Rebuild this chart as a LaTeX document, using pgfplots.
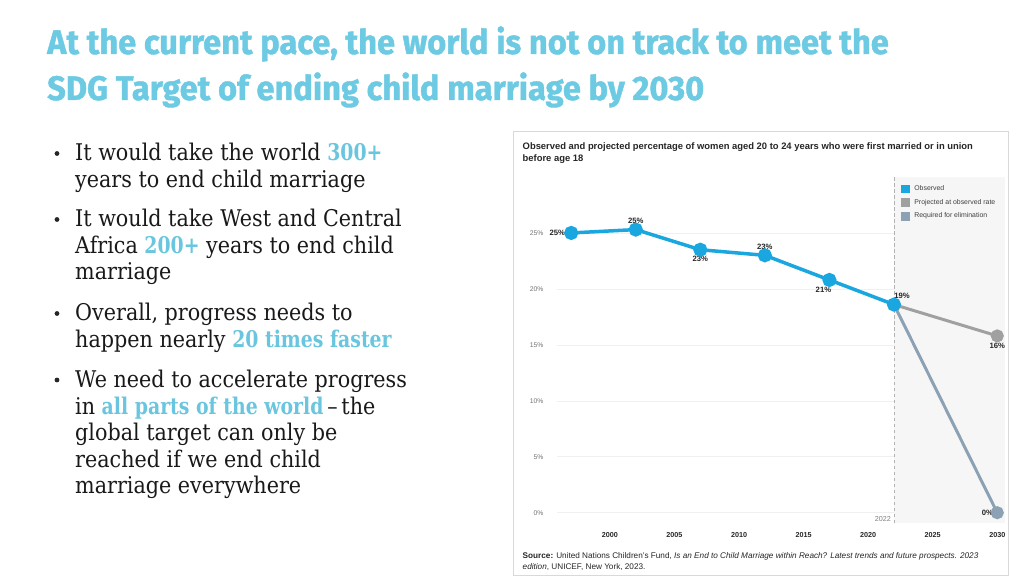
\documentclass[border=0pt]{standalone}
\usepackage{fontspec}
\setmainfont{Liberation Sans}
\newfontfamily\titlefont[FakeStretch=0.96, FakeBold=1.2]{Fira Sans}
\newfontfamily\bodyfont[FakeStretch=0.9, Ligatures=TeX]{DejaVu Serif}
\newfontfamily\hlfont[FakeStretch=0.82, Ligatures=TeX]{DejaVu Serif}
\usepackage{pgfplots}
\pgfplotsset{compat=1.18}
\definecolor{obsblue}{HTML}{1AA7E0}
\definecolor{projgray}{HTML}{A0A0A0}
\definecolor{reqblue}{HTML}{8CA1B3}
\definecolor{titlecyan}{HTML}{6CCAE3}
\definecolor{hl}{HTML}{6AC6DF}
\definecolor{shade}{HTML}{F6F6F6}
\newcommand{\bl}[2]{\node[anchor=base west, inner sep=0pt, font=\bodyfont\fontsize{23}{26}\selectfont, text=black!90] at (75,576-#1) {#2};}
\newcommand{\bdot}[1]{\fill[black!85] (57,576-#1+7.5) circle (2.4pt);}
\newcommand{\hi}[1]{{\hlfont\bfseries\color{hl}#1}}
\begin{document}
\begin{tikzpicture}[x=1pt,y=1pt]
\useasboundingbox[fill=white] (0,0) rectangle (1024,576);
% title
\node[anchor=base west, inner sep=0pt, text=titlecyan, font=\titlefont\bfseries\fontsize{34}{36}\selectfont] at (47,576-54) {At the current pace, the world is not on track to meet the};
\node[anchor=base west, inner sep=0pt, text=titlecyan, font=\titlefont\bfseries\fontsize{34}{36}\selectfont] at (47,576-100) {SDG Target of ending child marriage by 2030};
% bullets
\bdot{161}\bl{161}{It would take the world \hi{300+}}
\bl{187.5}{years to end child marriage}
\bdot{227}\bl{227}{It would take West and Central}
\bl{254}{Africa \hi{200+} years to end child}
\bl{280}{marriage}
\bdot{321}\bl{321}{Overall, progress needs to}
\bl{347.5}{happen nearly \hi{20 times faster}}
\bdot{387.5}\bl{387.5}{We need to accelerate progress}
\bl{414}{in \hi{all parts of the world}\,–\,the}
\bl{440.5}{global target can only be}
\bl{467}{reached if we end child}
\bl{493.5}{marriage everywhere}
% panel
\draw[black!15, line width=0.8pt] (513,576-131) rectangle (1008,1);
\node[anchor=west, inner sep=0pt, font=\bfseries\fontsize{9.4}{10}\selectfont, text=black!85] at (522.5,576-147.3) {Observed and projected percentage of women aged 20 to 24 years who were first married or in union};
\node[anchor=west, inner sep=0pt, font=\bfseries\fontsize{9.4}{10}\selectfont, text=black!85] at (522.5,576-159.3) {before age 18};
\node[anchor=west, inner sep=0pt, font=\fontsize{8.2}{9}\selectfont, text=black!85] at (522.5,576-556.7) {\textbf{Source:} United Nations Children's Fund, \textit{Is an End to Child Marriage within Reach? Latest trends and future prospects. 2023}};
\node[anchor=west, inner sep=0pt, font=\fontsize{8.2}{9}\selectfont, text=black!85] at (522.5,576-566.7) {\textit{edition}, UNICEF, New York, 2023.};
\begin{axis}[
  at={(557pt,53pt)}, anchor=south west,
  width=448pt, height=346pt, scale only axis,
  xmin=1995.9, xmax=2030.6, ymin=-0.92, ymax=30,
  axis line style={draw=none},
  major tick length=0pt,
  xtick={2000,2005,...,2030},
  ytick={0,5,...,25},
  yticklabels={0\%,5\%,10\%,15\%,20\%,25\%},
  xticklabel style={font=\bfseries\fontsize{7.2}{8}\selectfont, text=black!85, yshift=-5.5pt},
  yticklabel style={font=\fontsize{6.8}{7}\selectfont, text=black!55, xshift=-10pt},
  /pgf/number format/1000 sep={},
  /pgf/number format/assume math mode=true,
  ymajorgrids,
  grid style={black!6, line width=0.6pt},
  clip=false,
  legend style={at={(0.7655,0.985)}, anchor=north west, draw=none, fill=none,
    font=\fontsize{6.9}{7.5}\selectfont, text=black!75, row sep=3.2pt, inner sep=1pt,
    /tikz/every odd column/.append style={column sep=3pt}},
  legend cell align=left,
]
\addplot[fill=shade, draw=none, forget plot] coordinates {(2022,-0.92) (2030.6,-0.92) (2030.6,30) (2022,30)} -- cycle;
\addplot[black!30, dashed, dash pattern=on 3.5pt off 2.5pt, line width=0.6pt, forget plot] coordinates {(2022,-0.92) (2022,30)};
\node[anchor=south east, inner sep=0pt, font=\fontsize{7.2}{8}\selectfont, text=black!50] at (axis cs:2022,-0.92) [xshift=-3pt, yshift=1.5pt] {2022};
% projected
\addplot[projgray, line width=3pt, mark=*, mark size=5pt, mark indices={2}, forget plot] coordinates {(2022,18.6) (2030,15.8)};
% required
\addplot[reqblue, line width=3pt, mark=*, mark size=5pt, mark indices={2}, forget plot] coordinates {(2022,18.6) (2030,0)};
% observed
\addplot[obsblue, line width=3.5pt, mark=*, mark size=5.3pt, forget plot] coordinates {(1997,25.0) (2002,25.3) (2007,23.5) (2012,23.0) (2017,20.8) (2022,18.6)};
\addlegendimage{legend image code/.code={\fill[obsblue] (0pt,-3.8pt) rectangle (7.8pt,3.8pt);}}
\addlegendentry{Observed}
\addlegendimage{legend image code/.code={\fill[projgray] (0pt,-3.8pt) rectangle (7.8pt,3.8pt);}}
\addlegendentry{Projected at observed rate}
\addlegendimage{legend image code/.code={\fill[reqblue] (0pt,-3.8pt) rectangle (7.8pt,3.8pt);}}
\addlegendentry{Required for elimination}
% data labels
\begin{scope}[every node/.style={font=\bfseries\fontsize{7.7}{8}\selectfont, text=black!85, inner sep=0pt}]
\node[anchor=east, xshift=-6pt] at (axis cs:1997,25.0) {25\%};
\node[anchor=south, yshift=6pt] at (axis cs:2002,25.3) {25\%};
\node[anchor=north, yshift=-6.5pt] at (axis cs:2007,23.5) {23\%};
\node[anchor=south, yshift=5.5pt] at (axis cs:2012,23.0) {23\%};
\node[anchor=north, xshift=-6pt, yshift=-6.5pt] at (axis cs:2017,20.8) {21\%};
\node[anchor=south, xshift=8pt, yshift=5.5pt] at (axis cs:2022,18.6) {19\%};
\node[anchor=north, yshift=-7pt] at (axis cs:2030,15.8) {16\%};
\node[anchor=east, xshift=-4pt] at (axis cs:2030,0) {0\%};
\end{scope}
\end{axis}
\end{tikzpicture}
\end{document}
